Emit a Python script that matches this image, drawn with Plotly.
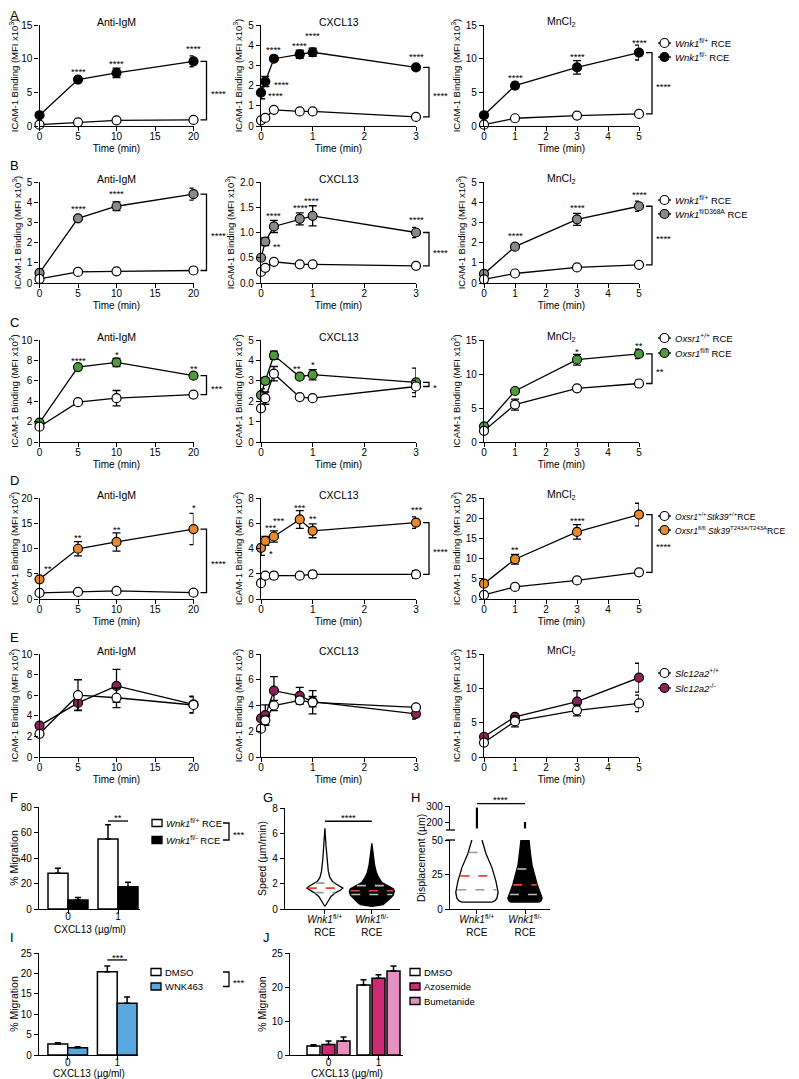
import numpy as np
import plotly.graph_objects as go

# the page places the plot 8 px from the top-left corner (default body margin);
# all pixel positions below are page positions and are shifted by OFF
OFF = 8
W, H = 799 - OFF, 1079 - OFF
FONT = "Arial, 'Liberation Sans', Helvetica, sans-serif"

# ---------------- data ----------------
T_IGM = [0, 5, 10, 20]
T_CXCL = [0, 0.083, 0.25, 0.75, 1, 3]
T_MN = [0, 1, 3, 5]

# Row A  (Wnk1 fl/+ vs fl/-)
A_igm_wt = [0.2, 0.55, 0.85, 0.9];            A_igm_wt_sem = [0.1, 0.1, 0.1, 0.1]
A_igm_ko = [1.6, 6.9, 7.9, 9.6];              A_igm_ko_sem = [0.3, 0.3, 0.7, 0.8]
A_cx_wt = [0.28, 0.4, 0.8, 0.72, 0.72, 0.45]; A_cx_wt_sem = [0.05, 0.05, 0.05, 0.05, 0.05, 0.05]
A_cx_ko = [1.65, 2.2, 3.33, 3.55, 3.65, 2.9]; A_cx_ko_sem = [0.3, 0.25, 0.1, 0.2, 0.2, 0.1]
A_mn_wt = [0.2, 1.15, 1.55, 1.8];             A_mn_wt_sem = [0.1, 0.1, 0.1, 0.1]
A_mn_ko = [1.6, 6.0, 8.7, 10.9];              A_mn_ko_sem = [0.2, 0.3, 1.0, 1.1]

# Row B  (Wnk1 fl/+ vs fl/D368A)
B_igm_wt = [0.2, 0.55, 0.58, 0.62];           B_igm_wt_sem = [0.03, 0.03, 0.03, 0.03]
B_igm_mu = [0.5, 3.2, 3.8, 4.4];              B_igm_mu_sem = [0.1, 0.1, 0.22, 0.3]
B_cx_wt = [0.22, 0.3, 0.42, 0.37, 0.37, 0.34]; B_cx_wt_sem = [0.02, 0.02, 0.02, 0.02, 0.02, 0.02]
B_cx_mu = [0.5, 0.82, 1.12, 1.27, 1.33, 1.0]; B_cx_mu_sem = [0.05, 0.08, 0.12, 0.12, 0.2, 0.1]
B_mn_wt = [0.18, 0.47, 0.77, 0.9];            B_mn_wt_sem = [0.03, 0.03, 0.03, 0.03]
B_mn_mu = [0.45, 1.8, 3.15, 3.8];             B_mn_mu_sem = [0.05, 0.1, 0.3, 0.25]

# Row C  (Oxsr1 +/+ vs fl/fl)
C_igm_wt = [1.5, 3.9, 4.3, 4.65];             C_igm_wt_sem = [0.1, 0.2, 0.75, 0.2]
C_igm_ko = [1.9, 7.35, 7.8, 6.5];             C_igm_ko_sem = [0.1, 0.2, 0.4, 0.2]
C_cx_wt = [1.65, 2.15, 3.35, 2.2, 2.15, 2.72]; C_cx_wt_sem = [0.15, 0.3, 0.35, 0.1, 0.1, 0.3]
C_cx_ko = [2.3, 3.0, 4.25, 3.2, 3.3, 2.92];   C_cx_ko_sem = [0.3, 0.15, 0.2, 0.1, 0.25, 0.7]
C_mn_wt = [1.65, 5.5, 7.9, 8.6];              C_mn_wt_sem = [0.1, 0.8, 0.3, 0.5]
C_mn_ko = [2.3, 7.5, 12.1, 12.95];            C_mn_ko_sem = [0.2, 0.3, 0.8, 0.7]

# Row D  (Oxsr1/Stk39)
D_igm_wt = [1.2, 1.4, 1.6, 1.25];             D_igm_wt_sem = [0.1, 0.1, 0.1, 0.1]
D_igm_ko = [3.9, 9.95, 11.3, 13.85];          D_igm_ko_sem = [0.3, 1.4, 1.8, 3.1]
D_cx_wt = [1.25, 1.85, 1.85, 1.85, 1.95, 1.95]; D_cx_wt_sem = [0.1, 0.15, 0.25, 0.1, 0.25, 0.3]
D_cx_ko = [4.05, 4.6, 4.95, 6.3, 5.4, 6.05];  D_cx_ko_sem = [0.6, 0.35, 0.45, 0.7, 0.55, 0.45]
D_mn_wt = [1.0, 3.0, 4.6, 6.6];               D_mn_wt_sem = [0.1, 0.2, 0.3, 0.3]
D_mn_ko = [3.8, 9.85, 16.6, 20.9];            D_mn_ko_sem = [0.3, 1.2, 1.8, 2.8]

# Row E  (Slc12a2)
E_igm_wt = [2.25, 6.0, 5.75, 5.05];           E_igm_wt_sem = [0.1, 1.5, 0.95, 0.8]
E_igm_ko = [3.05, 5.25, 6.9, 5.1];            E_igm_ko_sem = [0.15, 0.7, 1.6, 0.8]
E_cx_wt = [2.2, 2.85, 4.0, 4.4, 4.25, 3.85];  E_cx_wt_sem = [0.1, 0.35, 0.4, 0.2, 0.9, 0.1]
E_cx_ko = [3.0, 3.25, 5.15, 4.75, 4.3, 3.35]; E_cx_ko_sem = [0.15, 0.8, 1.1, 0.65, 0.4, 0.4]
E_mn_wt = [2.1, 5.2, 6.8, 7.8];               E_mn_wt_sem = [0.1, 0.8, 0.8, 1.2]
E_mn_ko = [2.95, 5.85, 8.05, 11.55];          E_mn_ko_sem = [0.15, 0.3, 1.6, 2.1]

# F, I, J  (% migration)
CXCL_DOSE = [0, 1]
DOSE_LABELS = ["0", "1"]
F_wt = [28, 55];      F_wt_sem = [4, 11]
F_ko = [7, 17.5];     F_ko_sem = [2, 3.5]
I_dmso = [2.7, 20.4]; I_dmso_sem = [0.3, 1.4]
I_wnk = [1.8, 12.7];  I_wnk_sem = [0.25, 1.5]
J_dmso = [2.65, 20.6]; J_dmso_sem = [0.35, 1.5]
J_azo = [3.1, 22.6];   J_azo_sem = [1.0, 1.0]
J_bum = [4.1, 24.7];   J_bum_sem = [1.2, 1.5]
J_TICKVALS = [0, 10, 20, 30]
J_TICKTEXT = ["0", "10", "20", "25"]

# G  speed violins: levels (um/min) and relative density
G_wt_lev = [0.2, 0.6, 1.0, 1.3, 1.5, 1.65, 1.8, 2.0, 2.2, 2.5, 3.0, 4.0, 5.0, 6.4]
G_wt_den = [0.0, 0.13, 0.27, 0.48, 0.7, 0.8, 0.7, 0.48, 0.33, 0.22, 0.15, 0.09, 0.05, 0.0]
G_ko_lev = [0.2, 0.35, 0.5, 0.8, 1.1, 1.4, 1.6, 1.8, 2.1, 2.5, 2.9, 3.5, 4.1, 5.2]
G_ko_den = [0.0, 0.5, 0.62, 0.8, 0.95, 1.0, 0.95, 0.75, 0.45, 0.3, 0.2, 0.12, 0.08, 0.0]
G_wt_q = [1.3, 1.65, 2.05]
G_ko_q = [1.15, 1.45, 1.85]

# H  displacement violins (um)
H_wt_lev = [5, 6, 8, 12, 20, 30, 40, 50]
H_wt_den = [0.71, 0.86, 0.95, 1.0, 0.9, 0.71, 0.43, 0.24]
H_ko_lev = [5, 6, 8, 12, 18, 25, 32, 40, 50]
H_ko_den = [0.67, 0.76, 0.81, 0.71, 0.57, 0.45, 0.33, 0.26, 0.19]
H_wt_q = [14, 24, 41]
H_ko_q = [10.5, 17.5, 29]
H_wt_tail = [160, 290]
H_ko_tail = [160, 200]

VIOLIN_CATS = [0, 1]
VIOLIN_LABELS = ["<i>Wnk1</i><sup>fl/+</sup><br>RCE", "<i>Wnk1</i><sup>fl/-</sup><br>RCE"]

# ---------------- layout helpers ----------------
fig = go.Figure()
L = dict(width=W, height=H, margin=dict(l=0, r=0, t=0, b=0, autoexpand=False),
         paper_bgcolor="white", plot_bgcolor="white", showlegend=False,
         font=dict(family=FONT, size=10, color="black"),
         barmode="overlay", annotations=[], shapes=[])
AX = {}


def sfx(i):
    return "" if i == 1 else str(i)


def px_x(p):
    return (p - OFF) / W


def px_y(p):
    return 1 - (p - OFF) / H


COMMON = dict(showline=True, linecolor="black", linewidth=1.3, ticks="outside",
              ticklen=4, tickwidth=1.3, tickcolor="black", showgrid=False,
              zeroline=False, automargin=False, tickfont=dict(size=10, family=FONT))


def make_axes(i, xpx, ypx, xr, yr, xtv, ytv, xtt=None, ytt=None,
              xtitle=None, ytitle=None, yfmt=None, ytfont=9.5, xstand=-3):
    s = sfx(i)
    xa = dict(COMMON, domain=[px_x(xpx[0]), px_x(xpx[1])], range=xr,
              anchor="y" + s, tickvals=xtv, ticktext=xtt, ticklabelstandoff=xstand)
    if xtitle:
        xa["title"] = dict(text=xtitle, font=dict(size=10), standoff=3)
    ya = dict(COMMON, domain=[px_y(ypx[1]), px_y(ypx[0])], range=yr,
              anchor="x" + s, tickvals=ytv, ticktext=ytt, tickformat=yfmt)
    if ytitle:
        ya["title"] = dict(text=ytitle, font=dict(size=ytfont), standoff=3)
    L["xaxis" + s] = xa
    L["yaxis" + s] = ya
    AX[i] = dict(xpx=xpx, ypx=ypx, xr=xr, yr=yr)


def series(i, x, y, err, color, name):
    s = sfx(i)
    fig.add_trace(go.Scatter(
        x=x, y=y, mode="lines+markers", xaxis="x" + s, yaxis="y" + s,
        line=dict(color="black", width=1.3),
        marker=dict(size=9, color=color, line=dict(color="black", width=1.2)),
        error_y=dict(type="data", array=err, color="black", thickness=1.3, width=4),
        cliponaxis=False, name=name))


def stars(i, items):
    s = sfx(i)
    for x, y, t in items:
        L["annotations"].append(dict(x=x, y=y, xref="x" + s, yref="y" + s, text=t,
                                     showarrow=False, font=dict(size=9.5),
                                     xanchor="center", yanchor="middle", yshift=-3))


def bracket(i, ytop, ybot, label):
    """right-hand bracket joining the last points of two series (x in axis-domain units)"""
    s = sfx(i)
    wpx = AX[i]["xpx"][1] - AX[i]["xpx"][0]
    xa = 1 + 7 / wpx
    xb = 1 + 13 / wpx
    L["shapes"].append(dict(type="path", xref=f"x{s} domain", yref="y" + s,
                            path=f"M {xa},{ytop} L {xb},{ytop} L {xb},{ybot} L {xa},{ybot}",
                            line=dict(color="black", width=1.3)))
    L["annotations"].append(dict(x=xb + 2 / wpx, y=(ytop + ybot) / 2, xref=f"x{s} domain", yref="y" + s,
                                 text=label, showarrow=False, font=dict(size=9.5),
                                 xanchor="left", yanchor="middle", yshift=-3))


def subtitle(i, text):
    s = sfx(i)
    L["annotations"].append(dict(x=0.5, y=1, xref=f"x{s} domain", yref=f"y{s} domain",
                                 text=text, showarrow=False, font=dict(size=10.5),
                                 xanchor="center", yanchor="middle", yshift=3))


def letter(xp, yp, t):
    L["annotations"].append(dict(x=px_x(xp), y=px_y(yp), xref="paper", yref="paper", text=t,
                                 showarrow=False, font=dict(size=13), xanchor="left", yanchor="middle"))


def xlabel(i, text, yp, size=10.5):
    s = sfx(i)
    L["annotations"].append(dict(x=0.5, y=px_y(yp), xref=f"x{s} domain", yref="paper", text=text,
                                 showarrow=False, font=dict(size=size), xanchor="center", yanchor="middle"))


def key_text(xp, yp, text, size=9.5):
    L["annotations"].append(dict(x=px_x(xp), y=px_y(yp), xref="paper", yref="paper", text=text,
                                 showarrow=False, font=dict(size=size), xanchor="left", yanchor="middle"))


def key_line(xp, yp, color, text, size=9.5):
    L["shapes"].append(dict(type="line", xref="paper", yref="paper", x0=px_x(xp), x1=px_x(xp + 13),
                            y0=px_y(yp), y1=px_y(yp), line=dict(color="black", width=1.3)))
    L["shapes"].append(dict(type="circle", xref="paper", yref="paper", x0=px_x(xp + 2), x1=px_x(xp + 11),
                            y0=px_y(yp + 4.5), y1=px_y(yp - 4.5), fillcolor=color,
                            line=dict(color="black", width=1.2)))
    key_text(xp + 15, yp, text, size)


def key_box(xp, yp, color, text):
    L["shapes"].append(dict(type="rect", xref="paper", yref="paper", x0=px_x(xp), x1=px_x(xp + 10),
                            y0=px_y(yp + 3.5), y1=px_y(yp - 3.5), fillcolor=color,
                            line=dict(color="black", width=1.3)))
    key_text(xp + 12, yp, text)


# ---------------- panels A-E ----------------
COLS = [(39.5, 193.5), (261, 416), (484, 639)]
ROWS = [(25, 126), (182, 283), (340, 442), (498, 599), (654, 757)]
XR = [[0, 20], [0, 3], [0, 5]]
XT = [[0, 5, 10, 15, 20], [0, 1, 2, 3], [0, 1, 2, 3, 4, 5]]
TIMES = [T_IGM, T_CXCL, T_MN]
SUBT = ["Anti-IgM", "CXCL13", "MnCl<sub>2</sub>"]

YR = [[15, 5, 15], [5, 2, 5], [10, 5, 15], [20, 8, 25], [10, 8, 15]]
YD = [[5, 1, 5], [1, 0.5, 1], [2, 1, 5], [5, 2, 5], [2, 2, 5]]
YTITLE = ["ICAM-1 Binding (MFI x10<sup>3</sup>)"] * 2 + ["ICAM-1 Binding (MFI x10<sup>2</sup>)"] * 3

DATA = [
    [(A_igm_wt, A_igm_wt_sem, A_igm_ko, A_igm_ko_sem),
     (A_cx_wt, A_cx_wt_sem, A_cx_ko, A_cx_ko_sem),
     (A_mn_wt, A_mn_wt_sem, A_mn_ko, A_mn_ko_sem)],
    [(B_igm_wt, B_igm_wt_sem, B_igm_mu, B_igm_mu_sem),
     (B_cx_wt, B_cx_wt_sem, B_cx_mu, B_cx_mu_sem),
     (B_mn_wt, B_mn_wt_sem, B_mn_mu, B_mn_mu_sem)],
    [(C_igm_wt, C_igm_wt_sem, C_igm_ko, C_igm_ko_sem),
     (C_cx_wt, C_cx_wt_sem, C_cx_ko, C_cx_ko_sem),
     (C_mn_wt, C_mn_wt_sem, C_mn_ko, C_mn_ko_sem)],
    [(D_igm_wt, D_igm_wt_sem, D_igm_ko, D_igm_ko_sem),
     (D_cx_wt, D_cx_wt_sem, D_cx_ko, D_cx_ko_sem),
     (D_mn_wt, D_mn_wt_sem, D_mn_ko, D_mn_ko_sem)],
    [(E_igm_wt, E_igm_wt_sem, E_igm_ko, E_igm_ko_sem),
     (E_cx_wt, E_cx_wt_sem, E_cx_ko, E_cx_ko_sem),
     (E_mn_wt, E_mn_wt_sem, E_mn_ko, E_mn_ko_sem)],
]
KO_COLORS = ["#000000", "#8a8a8a", "#4f9a3c", "#e8892e", "#8a2358"]
NAMES = [
    ("<i>Wnk1</i><sup>fl/+</sup> RCE", "<i>Wnk1</i><sup>fl/-</sup> RCE"),
    ("<i>Wnk1</i><sup>fl/+</sup> RCE", "<i>Wnk1</i><sup>fl/D368A</sup> RCE"),
    ("<i>Oxsr1</i><sup>+/+</sup> RCE", "<i>Oxsr1</i><sup>fl/fl</sup> RCE"),
    ("<i>Oxsr1</i><sup>+/+</sup><i>Stk39</i><sup>+/+</sup>RCE",
     "<i>Oxsr1</i><sup>fl/fl</sup> <i>Stk39</i><sup>T243A/T243A</sup>RCE"),
    ("<i>Slc12a2</i><sup>+/+</sup>", "<i>Slc12a2</i><sup>-/-</sup>"),
]
KEY_Y = [(43, 57), (200, 214), (338, 353), (516, 530), (673, 688)]
KEY_SIZE = [9.5, 9.5, 9.5, 8.6, 9.5]

STARS = [
    [[(5, 8.6, "****"), (10, 9.8, "****"), (20, 11.9, "****")],
     [(0.29, 1.65, "****"), (0.4, 2.2, "****"), (0.25, 3.93, "****"), (0.74, 4.12, "****"),
      (1.0, 4.62, "****"), (3.0, 3.6, "****")],
     [(1, 7.6, "****"), (3, 10.7, "****"), (5, 12.9, "****")]],
    [[(5, 3.86, "****"), (10, 4.57, "****"), (20, 5.2, "****")],
     [(0.31, 0.79, "**"), (0.25, 1.39, "****"), (0.77, 1.56, "****"), (0.98, 1.70, "****"),
      (3.0, 1.31, "****")],
     [(1, 2.48, "****"), (3, 3.9, "****"), (5, 4.55, "****")]],
    [[(5, 8.3, "****"), (10, 8.85, "*"), (20, 7.5, "**")],
     [(0.69, 3.77, "**"), (1.0, 3.97, "*")],
     [(3, 13.8, "*"), (5, 14.6, "**")]],
    [[(1.04, 6.6, "**"), (5, 12.7, "**"), (10, 14.4, "**"), (20, 18.8, "*")],
     [(0.2, 3.83, "*"), (0.19, 5.87, "***"), (0.33, 6.48, "***"), (0.75, 7.5, "***"),
      (1.0, 6.6, "**"), (3.0, 7.3, "***")],
     [(1, 12.9, "**"), (3, 20.1, "****"), (5, 25.2, "****")]],
    [[], [], []],
]
BRACKETS = [["****"] * 3, ["****"] * 3, ["***", "*", "**"], ["****"] * 3, [None] * 3]
LETTERS = ["A", "B", "C", "D", "E"]
LETTER_Y = [16, 165, 322, 480, 637]

idx = 0
for r in range(5):
    letter(8, LETTER_Y[r], LETTERS[r])
    for c in range(3):
        idx += 1
        ymax = YR[r][c]
        d = YD[r][c]
        ytv = list(np.arange(0, ymax + d / 2, d))
        make_axes(idx, COLS[c], ROWS[r], XR[c], [0, ymax], XT[c], ytv,
                  xtitle="Time (min)", ytitle=YTITLE[r],
                  yfmt=".1f" if (r == 1 and c == 1) else None)
        subtitle(idx, SUBT[c])
        wt, wt_sem, ko, ko_sem = DATA[r][c]
        series(idx, TIMES[c], ko, ko_sem, KO_COLORS[r], NAMES[r][1])
        series(idx, TIMES[c], wt, wt_sem, "white", NAMES[r][0])
        stars(idx, STARS[r][c])
        if BRACKETS[r][c]:
            bracket(idx, ko[-1], wt[-1], BRACKETS[r][c])
    key_line(658, KEY_Y[r][0], "white", NAMES[r][0], KEY_SIZE[r])
    key_line(658, KEY_Y[r][1], KO_COLORS[r], NAMES[r][1], KEY_SIZE[r])


def bars(i, y, sem, color, offset, width, name):
    s = sfx(i)
    fig.add_trace(go.Bar(x=CXCL_DOSE, y=y, width=width, offset=offset, xaxis="x" + s, yaxis="y" + s,
                         marker=dict(color=color, line=dict(color="black", width=1.5)),
                         error_y=dict(type="data", array=sem, arrayminus=[0] * len(sem), symmetric=False,
                                      color="black", thickness=1.5, width=3),
                         name=name))


# ---------------- F (bars) ----------------
make_axes(16, (39, 140), (807, 909), [-0.58, 1.44], [0, 80], CXCL_DOSE, [0, 20, 40, 60, 80],
          xtt=DOSE_LABELS, ytitle="% Migration", ytfont=10.5, xstand=-6)
xlabel(16, "CXCL13 (\u00b5g/ml)", 929.5, size=10)
letter(8, 797, "F")
F_NAMES = ["<i>Wnk1</i><sup>fl/+</sup> RCE", "<i>Wnk1</i><sup>fl/-</sup> RCE"]
bars(16, F_wt, F_wt_sem, "white", -0.4, 0.4, F_NAMES[0])
bars(16, F_ko, F_ko_sem, "black", 0.0, 0.4, F_NAMES[1])
key_box(152, 823, "white", F_NAMES[0])
key_box(152, 840, "black", F_NAMES[1])
L["shapes"].append(dict(type="line", xref="x16", yref="y16", x0=0.8, x1=1.2, y0=69, y1=69,
                        line=dict(color="black", width=1.3)))
stars(16, [(1.0, 74, "**")])

# ---------------- I (bars) ----------------
make_axes(20, (39, 138), (953, 1055), [-0.58, 1.42], [0, 25], CXCL_DOSE, [0, 5, 10, 15, 20, 25],
          xtt=DOSE_LABELS, ytitle="% Migration", ytfont=10.5, xstand=-6)
xlabel(20, "CXCL13 (\u00b5g/ml)", 1073.5, size=10)
letter(8, 937, "I")
bars(20, I_dmso, I_dmso_sem, "white", -0.4, 0.4, "DMSO")
bars(20, I_wnk, I_wnk_sem, "#5ba8de", 0.0, 0.4, "WNK463")
key_box(151, 972, "white", "DMSO")
key_box(151, 986.5, "#5ba8de", "WNK463")
L["shapes"].append(dict(type="line", xref="x20", yref="y20", x0=0.8, x1=1.2, y0=23.3, y1=23.3,
                        line=dict(color="black", width=1.3)))
stars(20, [(1.0, 24.6, "***")])

# ---------------- J (bars) ----------------
make_axes(21, (290, 403), (953, 1055), [-0.77, 1.49], [0, 30], CXCL_DOSE, J_TICKVALS,
          xtt=DOSE_LABELS, ytt=J_TICKTEXT, ytitle="% Migration", ytfont=10.5, xstand=-6)
xlabel(21, "CXCL13 (\u00b5g/ml)", 1073.5, size=10)
letter(261, 937, "J")
bars(21, J_dmso, J_dmso_sem, "white", -0.43, 0.26, "DMSO")
bars(21, J_azo, J_azo_sem, "#cc2a73", -0.13, 0.26, "Azosemide")
bars(21, J_bum, J_bum_sem, "#e391c0", 0.17, 0.26, "Bumetanide")
key_box(410, 972, "white", "DMSO")
key_box(410, 986.5, "#cc2a73", "Azosemide")
key_box(410, 1001, "#e391c0", "Bumetanide")

# legend brackets F and I
for (yt, yb, xv, lab) in [(823, 840, 229, "***"), (972, 986.5, 229, "***")]:
    L["shapes"].append(dict(type="path", xref="paper", yref="paper",
                            path=f"M {px_x(xv-6)},{px_y(yt)} L {px_x(xv)},{px_y(yt)} L {px_x(xv)},{px_y(yb)} L {px_x(xv-6)},{px_y(yb)}",
                            line=dict(color="black", width=1.3)))
    L["annotations"].append(dict(x=px_x(xv + 2), y=px_y((yt + yb) / 2), xref="paper", yref="paper",
                                 text=lab, showarrow=False, font=dict(size=9.5),
                                 xanchor="left", yanchor="middle", yshift=-3))

# ---------------- G (speed violins) ----------------
make_axes(17, (285, 400), (808, 909), [-0.85, 1.6], [0, 8], VIOLIN_CATS, [0, 2, 4, 6, 8],
          xtt=VIOLIN_LABELS, ytitle="Speed (\u00b5m/min)", ytfont=10.5)
letter(261, 797, "G")


def violin(i, yax, center, lev, den, scale, fill, outline, open_top=False):
    s = sfx(i)
    lev = np.array(lev, float)
    d = np.array(den, float) * scale
    xs = np.concatenate([center - d, (center + d)[::-1]])
    ys = np.concatenate([lev, lev[::-1]])
    fig.add_trace(go.Scatter(x=xs, y=ys, fill="toself", fillcolor=fill, mode="lines",
                             line=dict(color=outline, width=1.3 if not open_top else 0),
                             xaxis="x" + s, yaxis=yax, hoverinfo="skip"))
    if open_top:
        ox = np.concatenate([(center - d)[::-1], center + d])
        oy = np.concatenate([lev[::-1], lev])
        fig.add_trace(go.Scatter(x=ox, y=oy, mode="lines", line=dict(color="black", width=1.3),
                                 xaxis="x" + s, yaxis=yax, hoverinfo="skip"))


def qlines(i, yax, center, lev, den, scale, qs, colors):
    s = sfx(i)
    for q, col in zip(qs, colors):
        w = float(np.interp(q, lev, den)) * scale * 0.95
        fig.add_trace(go.Scatter(x=[center - w, center + w], y=[q, q], mode="lines",
                                 line=dict(color=col, width=1.6, dash="dash"),
                                 xaxis="x" + s, yaxis=yax, hoverinfo="skip"))


GS = 0.48
violin(17, "y17", 0, G_wt_lev, G_wt_den, GS, "white", "black")
violin(17, "y17", 1, G_ko_lev, G_ko_den, GS, "black", "black")
qlines(17, "y17", 0, G_wt_lev, G_wt_den, GS, G_wt_q, ["#9a9a9a", "#e8462e", "#9a9a9a"])
qlines(17, "y17", 1, G_ko_lev, G_ko_den, GS, G_ko_q, ["#bdbdbd", "#e8462e", "#bdbdbd"])
L["shapes"].append(dict(type="line", xref="x17", yref="y17", x0=0, x1=1, y0=6.95, y1=6.95,
                        line=dict(color="black", width=1.3)))
stars(17, [(0.5, 7.5, "****")])

# ---------------- H (displacement violins, broken axis) ----------------
make_axes(18, (450, 550), (840, 909), [-0.56, 1.52], [0, 50], VIOLIN_CATS, [0, 25, 50],
          xtt=VIOLIN_LABELS)
L["yaxis19"] = dict(COMMON, domain=[px_y(830), px_y(806)], range=[150, 300], anchor="x18",
                    tickvals=[200, 300])
L["annotations"].append(dict(x=px_x(421), y=px_y(858), xref="paper", yref="paper",
                             text="Displacement (\u00b5m)", textangle=-90, showarrow=False,
                             font=dict(size=10.5), xanchor="center", yanchor="middle"))
letter(409, 797, "H")
HS = 0.44
violin(18, "y18", 0, H_wt_lev, H_wt_den, HS, "white", "black", open_top=True)
violin(18, "y18", 1, H_ko_lev, H_ko_den, HS, "black", "black", open_top=True)
qlines(18, "y18", 0, H_wt_lev, H_wt_den, HS, H_wt_q, ["#9a9a9a", "#e8462e", "#9a9a9a"])
qlines(18, "y18", 1, H_ko_lev, H_ko_den, HS, H_ko_q, ["#bdbdbd", "#e8462e", "#bdbdbd"])
for cx, tail in zip(VIOLIN_CATS, [H_wt_tail, H_ko_tail]):
    fig.add_trace(go.Scatter(x=[cx, cx], y=tail, mode="lines", line=dict(color="black", width=2.2),
                             xaxis="x18", yaxis="y19", hoverinfo="skip"))
# axis-break marks
for yref, yv in [("y19 domain", 0), ("y18 domain", 1)]:
    L["shapes"].append(dict(type="line", xref="x18 domain", yref=yref, x0=-0.04, x1=0.05, y0=yv, y1=yv,
                            line=dict(color="black", width=1.3)))
L["shapes"].append(dict(type="line", xref="x18", yref="y19 domain", x0=0, x1=1, y0=1.1, y1=1.1,
                        line=dict(color="black", width=1.3)))
L["annotations"].append(dict(x=0.5, y=1.1, xref="x18", yref="y19 domain", text="****", showarrow=False,
                             font=dict(size=9.5), yanchor="bottom", yshift=-3))

fig.update_layout(**L)
fig.write_html("out.html")
